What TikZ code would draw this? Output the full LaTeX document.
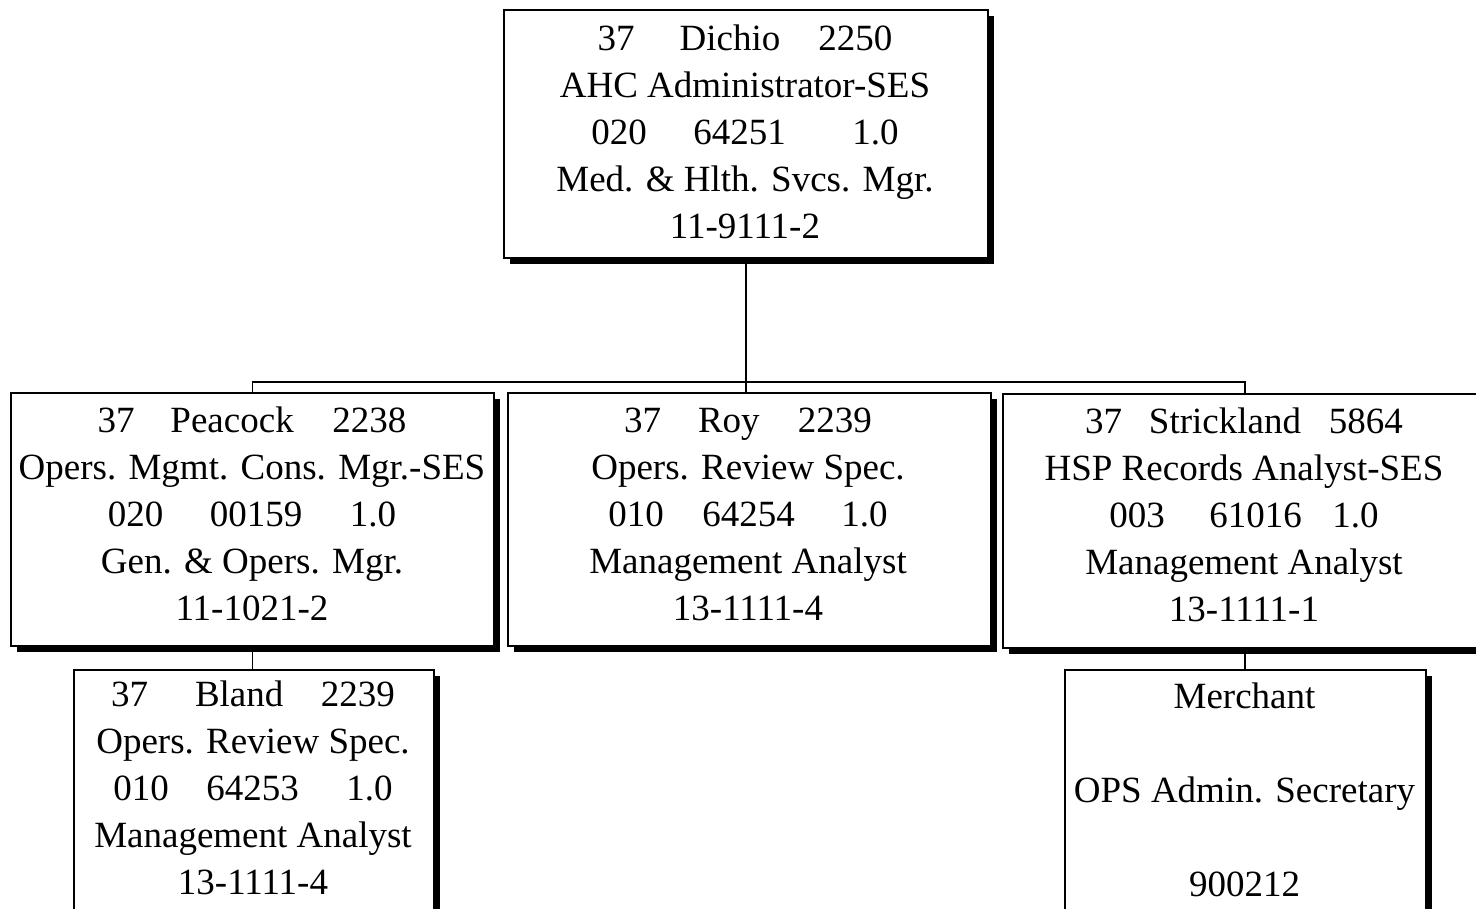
\documentclass[tikz,border=0pt]{standalone}
\usepackage{fontspec}
\setmainfont{Liberation Serif}
\usetikzlibrary{shadows}
\begin{document}
\begin{tikzpicture}[x=1pt,y=-1pt,
  box/.style={draw, line width=1.6pt, fill=white, rectangle, inner sep=0pt,
    anchor=north west,
    drop shadow={shadow xshift=6pt, shadow yshift=-6pt, opacity=1, fill=black}},
  lbl/.style={inner sep=0pt, anchor=north, align=center,
    font=\fontsize{37}{47}\selectfont},
  link/.style={line width=1.6pt}]

\useasboundingbox (0,0) rectangle (1476,909);
\clip (0,0) rectangle (1476,909);
\fill[white] (0,0) rectangle (1476,909);

% position boxes
\node[box, minimum width=484pt, minimum height=248pt] (dichio)   at (503,9)   {};
\node[box, minimum width=483pt, minimum height=253pt] (peacock)  at (10,392)  {};
\node[box, minimum width=483pt, minimum height=253pt] (roy)      at (507,392) {};
\node[box, minimum width=484pt, minimum height=254pt] (strick)   at (1002,393) {};
\node[box, minimum width=360pt, minimum height=270pt] (bland)    at (73,669)  {};
\node[box, minimum width=361pt, minimum height=270pt] (merchant) at (1064,669) {};

% reporting lines
\coordinate (bus) at (746,382);
\draw[link] (dichio.south) -- (dichio.south |- bus);
\draw[link] (peacock.north) |- (bus) -| (strick.north);
\draw[link] (bus) -- (bus |- roy.north);
\draw[link] (peacock.south) -- (peacock.south |- bland.north);
\draw[link] (strick.south) -- (strick.south |- merchant.north);

% position texts
\node[lbl] (t-dichio) at (745,17.1) {\strut 37\hspace{45pt}Dichio\hspace{38pt}2250\\
  \strut AHC Administrator-SES\\
  \strut 020\hspace{46.5pt}64251\hspace{66.5pt}1.0\\
  \strut Med. \& Hlth. Svcs. Mgr.\\
  \strut 11-9111-2};

\node[lbl] (t-peacock) at (252,399.1) {\strut 37\hspace{36pt}Peacock\hspace{38.7pt}2238\\
  \strut Opers. Mgmt. Cons. Mgr.-SES\\
  \strut 020\hspace{46.5pt}00159\hspace{47.5pt}1.0\\
  \strut Gen. \& Opers. Mgr.\\
  \strut 11-1021-2};

\node[lbl] (t-roy) at (748,399.1) {\strut 37\hspace{37pt}Roy\hspace{38.3pt}2239\\
  \strut Opers. Review Spec.\\
  \strut 010\hspace{38.5pt}64254\hspace{46.5pt}1.0\\
  \strut Management Analyst\\
  \strut 13-1111-4};

\node[lbl] (t-strick) at (1244,400.1) {\strut 37\hspace{27pt}Strickland\hspace{27.9pt}5864\\
  \strut HSP Records Analyst-SES\\
  \strut 003\hspace{44.5pt}61016\hspace{30.5pt}1.0\\
  \strut Management Analyst\\
  \strut 13-1111-1};

\node[lbl] (t-bland) at (253,673.1) {\strut 37\hspace{47pt}Bland\hspace{37.6pt}2239\\
  \strut Opers. Review Spec.\\
  \strut 010\hspace{37.5pt}64253\hspace{47.5pt}1.0\\
  \strut Management Analyst\\
  \strut 13-1111-4};

\node[lbl] (t-merchant) at (1244.5,675.1) {\strut Merchant\\
  \strut\\
  \strut OPS Admin. Secretary\\
  \strut\\
  \strut 900212};
\end{tikzpicture}
\end{document}
